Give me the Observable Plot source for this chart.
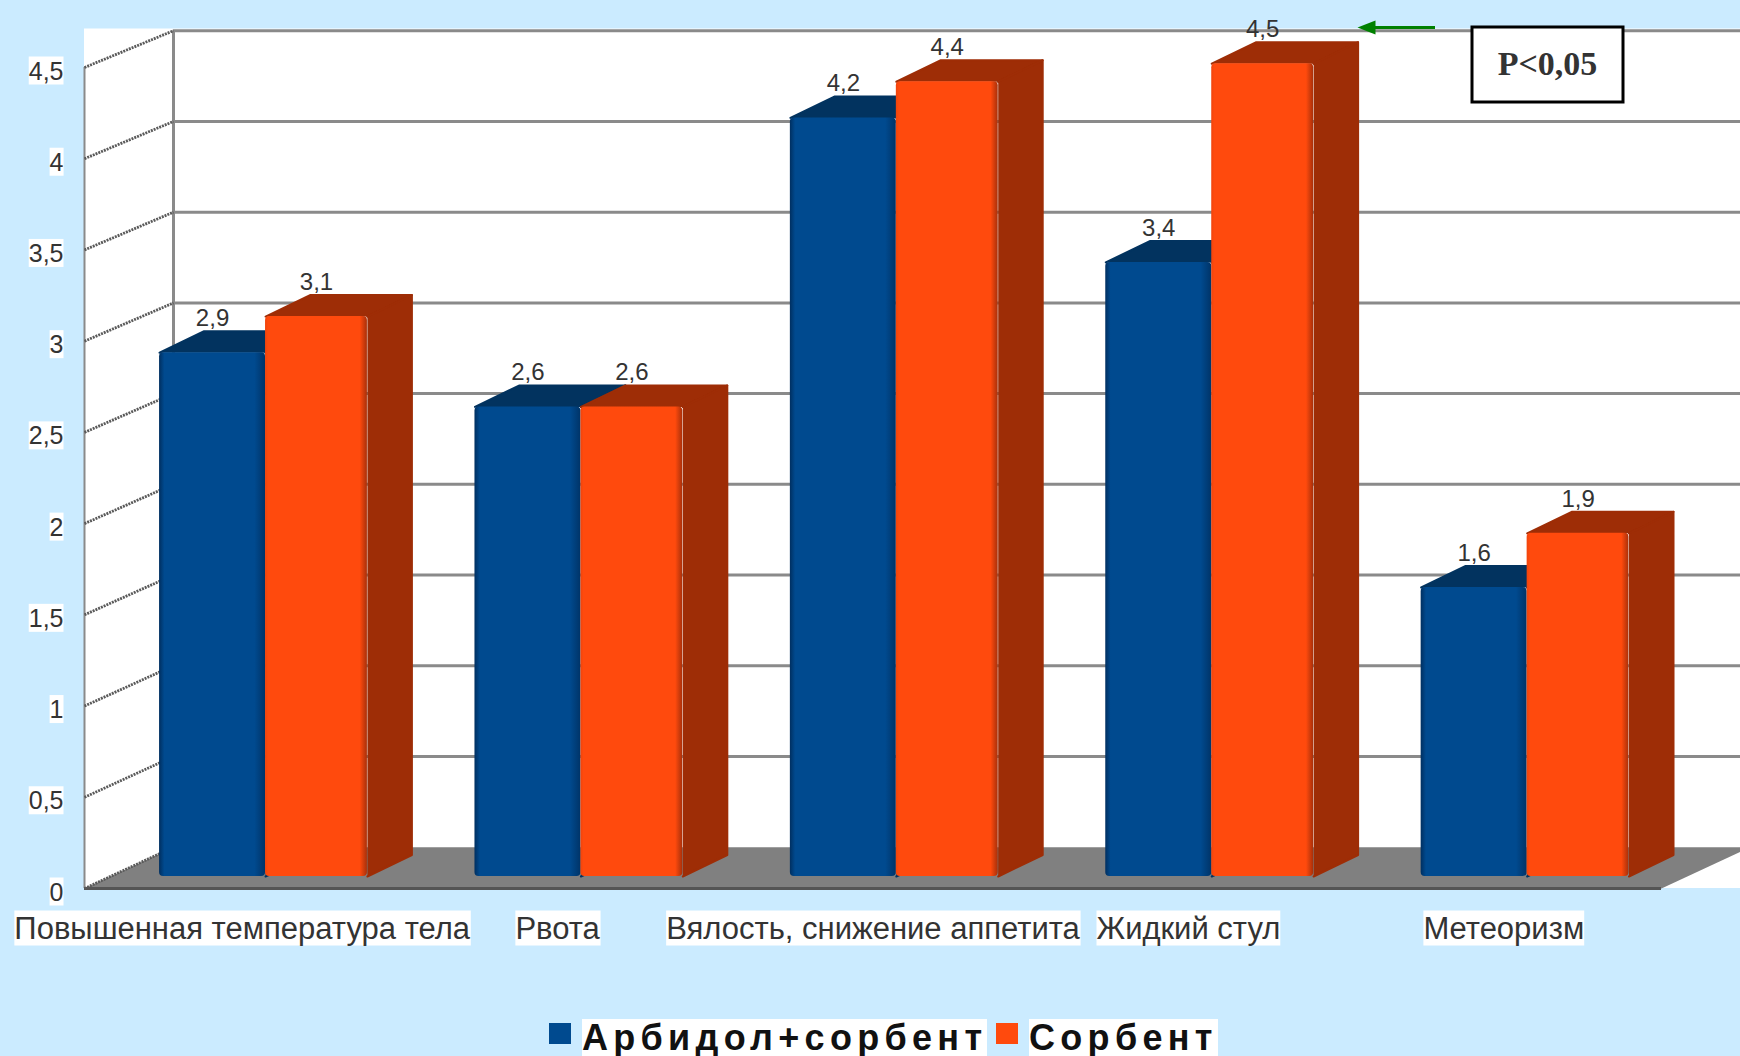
<!DOCTYPE html>
<html lang="ru">
<head>
<meta charset="utf-8">
<title>Арбидол+сорбент и Сорбент</title>
<script src="https://cdn.jsdelivr.net/npm/d3@7"></script>
<script src="https://cdn.jsdelivr.net/npm/@observablehq/plot@0.6"></script>
<style>
  html, body { margin: 0; padding: 0; background: #cbebff; overflow: hidden; }
  #chart svg { display: block; max-width: none; }
  #legend { position: relative; height: 56px; font: bold 36px "Liberation Sans", sans-serif; color: #111; }
  #legend i { position: absolute; top: 23px; width: 22px; height: 21px; }
  #legend span { position: absolute; top: 19px; height: 37px; line-height: 37px; background: #fff; letter-spacing: 5.3px; white-space: nowrap; }
</style>
</head>
<body>
<div id="chart"></div>
<div id="legend">
  <i style="left:549px;background:#004a8f"></i><span style="left:582px">Арбидол+сорбент</span>
  <i style="left:996px;background:#ff4a0d"></i><span style="left:1029px">Сорбент</span>
</div>
<script>
// Symptom duration by treatment group
const categories = ["Повышенная температура тела", "Рвота", "Вялость, снижение аппетита", "Жидкий стул", "Метеоризм"];
const arbidol = [2.9, 2.6, 4.2, 3.4, 1.6];
const sorbent = [3.1, 2.6, 4.4, 4.5, 1.9];
const yTicks = [0, 0.5, 1, 1.5, 2, 2.5, 3, 3.5, 4, 4.5];

// Chart frame
const width = 1740, height = 1000;
const marginLeft = 84, marginRight = 79, marginTop = 67, marginBottom = 112;
const xUnit = (width - marginLeft - marginRight) / categories.length;
const yUnit = (height - marginTop - marginBottom) / 4.5;
const xAt = (px) => (px - marginLeft) / xUnit;
const yAt = (py) => (height - marginBottom - py) / yUnit;

// Oblique projection, in scale units
const wallDx = 89 / xUnit, wallDy = 41.3 / yUnit, wallShrink = 0.9945;
const barDx = 44.5 / xUnit, barDy = 21.5 / yUnit;
const barLift = 12 / yUnit, barShrink = 0.99;
const slots = { left: 0.238, mid: 0.574, right: 0.897 };
const barTop = (v) => barLift + v * barShrink;
const wallY = (v) => wallDy + v * wallShrink;

const colors = {
  grid: "#8a8a8a", floor: "#808080", floorEdge: "#555555", wallTick: "#5a5a5a",
  blueTop: "#02335f", orangeDark: "#9e2d06"
};

const polygon = (points, fill, edge = "none") =>
  Plot.line(points, { x: (d) => d[0], y: (d) => d[1], fill, stroke: edge, strokeWidth: 2, strokeLinejoin: "round" });

// Front-face shading: darker rims fading into the flat colour
function gradient(id, stops) {
  const g = d3.create("svg:linearGradient").attr("id", id);
  for (const [offset, color] of stops) g.append("stop").attr("offset", offset).attr("stop-color", color);
  return g.node();
}
const defs = () => {
  const d = d3.create("svg:defs");
  d.append(() => gradient("blue-face", [[0, "#002f60"], [0.05, "#004a8f"], [0.9, "#004a8f"], [1, "#003468"]]));
  d.append(() => gradient("orange-face", [[0, "#f0440c"], [0.03, "#ff4a0d"], [0.93, "#ff4a0d"], [1, "#a8300a"]]));
  return d.node();
};

// One cuboid: top, side, then front face
function barMarks(values, x0, x1, front, top, side) {
  const index = values.map((v, i) => ({ v, i }));
  const marks = [];
  for (const { v, i } of index) {
    const l = i + x0, r = i + x1, t = barTop(v);
    marks.push(polygon([[l, t], [l + barDx, t + barDy], [r + barDx, t + barDy], [r, t]], top, top));
    marks.push(polygon([[r, barLift], [r + barDx, barLift + barDy], [r + barDx, t + barDy], [r, t]], side, side));
  }
  marks.push(Plot.rect(index, {
    x1: (d) => d.i + x0, x2: (d) => d.i + x1,
    y1: () => barLift, y2: (d) => barTop(d.v),
    fill: front, r: 4
  }));
  marks.push(Plot.text(index, {
    x: (d) => d.i + (x0 + x1) / 2, y: (d) => barTop(d.v) + barDy,
    text: (d) => String(d.v).replace(".", ","), dy: -13,
    fontSize: 24, fill: "#333", ariaLabel: "value-label"
  }));
  return marks;
}

const chart = Plot.plot({
  width, height, marginLeft, marginRight, marginTop, marginBottom,
  style: { background: "transparent", fontFamily: "'Liberation Sans', sans-serif" },
  x: { axis: null, domain: [0, categories.length], range: [marginLeft, width - marginRight] },
  y: { axis: null, domain: [0, 4.5], range: [height - marginBottom, marginTop] },
  marks: [
    defs,
    // White walls
    Plot.rect([0], { x1: () => 0, x2: () => categories.length + wallDx, y1: () => 0, y2: () => yAt(28.5), fill: "#fff" }),
    // Rear grid
    Plot.ruleY(yTicks.slice(1), { y: wallY, x1: () => wallDx, x2: () => categories.length + wallDx, stroke: colors.grid, strokeWidth: 3 }),
    Plot.ruleX([wallDx], { y1: () => wallDy, y2: () => wallY(4.5), stroke: colors.grid, strokeWidth: 3 }),
    Plot.ruleX([0], { y1: () => 0, y2: () => 4.5, stroke: colors.grid, strokeWidth: 2 }),
    // Floor
    polygon([[0, 0], [wallDx, wallDy], [categories.length + wallDx, wallDy], [categories.length, 0]], colors.floor),
    Plot.ruleY([0], { x1: () => 0, x2: () => categories.length, stroke: colors.floorEdge, strokeWidth: 3 }),
    // Side wall ticks
    Plot.link(yTicks, { x1: () => 0, y1: (d) => d, x2: () => wallDx, y2: wallY, stroke: colors.wallTick, strokeWidth: 2.8, strokeDasharray: "2,1" }),
    // Axes
    Plot.axisY(yTicks, { anchor: "left", tickSize: 0, tickPadding: 21, dy: 4, fontSize: 25, fill: "#333", tickFormat: (d) => String(d).replace(".", ","), label: null }),
    Plot.axisX(categories.map((_, i) => i + 0.5), { anchor: "bottom", tickSize: 0, tickPadding: 28, fontSize: 31, fill: "#333", tickFormat: (d) => categories[d - 0.5], label: null }),
    // Bars
    ...barMarks(arbidol, slots.left, slots.mid, "url(#blue-face)", colors.blueTop, colors.blueTop),
    ...barMarks(sorbent, slots.mid, slots.right, "url(#orange-face)", colors.orangeDark, colors.orangeDark),
    // Significance annotation
    Plot.ruleY([yAt(27)], { x1: () => xAt(1372), x2: () => xAt(1435), stroke: "#008000", strokeWidth: 3 }),
    polygon([[xAt(1357), yAt(27)], [xAt(1375), yAt(20)], [xAt(1375), yAt(34)]], "#008000"),
    Plot.rect([0], { x1: () => xAt(1472), x2: () => xAt(1623), y1: () => yAt(27), y2: () => yAt(102), fill: "#fff", stroke: "#000", strokeWidth: 3 }),
    Plot.text(["P<0,05"], { x: () => xAt(1547), y: () => yAt(64), fontFamily: "'Liberation Serif', serif", fontWeight: "bold", fontSize: 34, fill: "#333" })
  ]
});

document.getElementById("chart").append(chart);

// White plates behind chart labels
for (const text of chart.querySelectorAll('g[aria-label="value-label"] text, g[aria-label^="y-axis"] text, g[aria-label^="x-axis"] text')) {
  const box = text.getBBox();
  const plate = document.createElementNS("http://www.w3.org/2000/svg", "rect");
  plate.setAttribute("x", box.x);
  plate.setAttribute("y", box.y);
  plate.setAttribute("width", box.width);
  plate.setAttribute("height", box.height);
  plate.setAttribute("fill", "#fff");
  const t = text.getAttribute("transform");
  if (t) plate.setAttribute("transform", t);
  text.parentNode.insertBefore(plate, text);
}
</script>
</body>
</html>
